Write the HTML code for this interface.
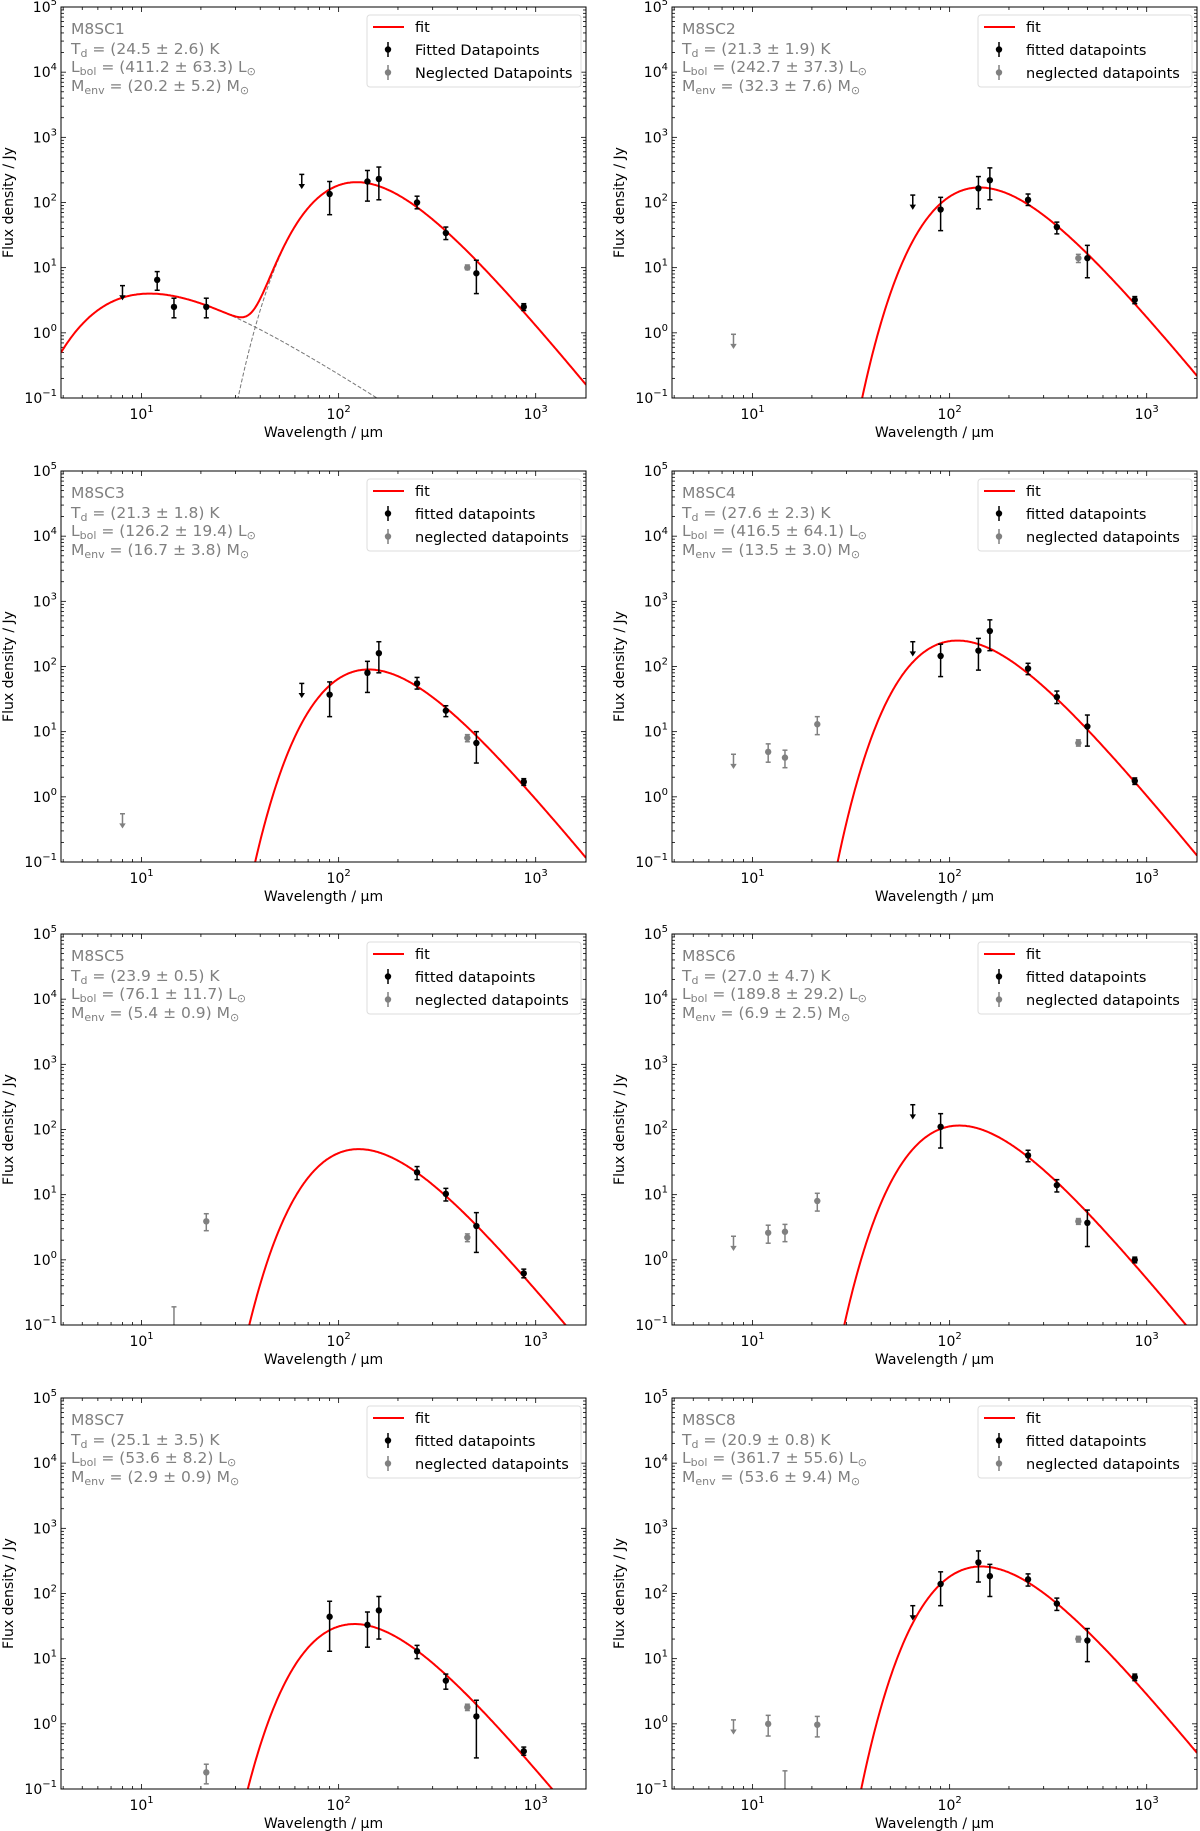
<!DOCTYPE html>
<html><head><meta charset="utf-8">
<style>
html,body{margin:0;padding:0;background:#fff;}
svg{display:block;font-family:"DejaVu Sans","Liberation Sans",sans-serif;}
</style></head>
<body>
<svg id="fig" width="1200" height="1831" viewBox="0 0 1200 1831" xmlns="http://www.w3.org/2000/svg"></svg>
<script>
// ---- data ----
const panelNames = ["M8SC1","M8SC2","M8SC3","M8SC4","M8SC5","M8SC6","M8SC7","M8SC8"];
const tdText = ["24.5 ± 2.6","21.3 ± 1.9","21.3 ± 1.8","27.6 ± 2.3","23.9 ± 0.5","27.0 ± 4.7","25.1 ± 3.5","20.9 ± 0.8"];
const lbolText = ["411.2 ± 63.3","242.7 ± 37.3","126.2 ± 19.4","416.5 ± 64.1","76.1 ± 11.7","189.8 ± 29.2","53.6 ± 8.2","361.7 ± 55.6"];
const menvText = ["20.2 ± 5.2","32.3 ± 7.6","16.7 ± 3.8","13.5 ± 3.0","5.4 ± 0.9","6.9 ± 2.5","2.9 ± 0.9","53.6 ± 9.4"];
const coldT = [24.5,21.3,21.3,27.6,23.9,27.0,25.1,20.9];
const coldPeak = [205,170,90,250,50,115,34,260];
const warmT = [464,0,0,0,0,0,0,0];
const warmPeak = [4,0,0,0,0,0,0,0];
// points: [wavelength, value, low, high, kind]  kind: f=fitted, n=neglected, fu=fitted upper limit, nu=neglected upper limit
const points1 = [[8,5.3,0,0,"fu"],[12,6.5,4.5,8.7,"f"],[14.6,2.5,1.7,3.4,"f"],[21.3,2.5,1.7,3.4,"f"],[65,270,0,0,"fu"],[90,135,65,210,"f"],[140,210,105,310,"f"],[160,230,110,350,"f"],[250,100,80,125,"f"],[350,34,27,42,"f"],[450,10,9.3,11,"n"],[500,8.2,4,13,"f"],[870,2.5,2.2,2.8,"f"]];
const points2 = [[8,0.95,0,0,"nu"],[65,130,0,0,"fu"],[90,78,37,120,"f"],[140,165,80,250,"f"],[160,220,110,340,"f"],[250,110,90,135,"f"],[350,42,33,50,"f"],[450,14,12,16,"n"],[500,14,7,22,"f"],[870,3.2,2.8,3.6,"f"]];
const points3 = [[8,0.55,0,0,"nu"],[65,55,0,0,"fu"],[90,37,17,58,"f"],[140,80,40,120,"f"],[160,160,80,240,"f"],[250,55,45,68,"f"],[350,21,17,25,"f"],[450,8,7,9,"n"],[500,6.7,3.3,10,"f"],[870,1.7,1.5,1.9,"f"]];
const points4 = [[8,4.5,0,0,"nu"],[12,4.9,3.4,6.5,"n"],[14.6,4,2.8,5.2,"n"],[21.3,13,9,17,"n"],[65,240,0,0,"fu"],[90,145,70,220,"f"],[140,175,88,270,"f"],[160,350,175,520,"f"],[250,93,75,112,"f"],[350,34,27,42,"f"],[450,6.7,6,7.5,"n"],[500,12,6,18,"f"],[870,1.75,1.55,1.95,"f"]];
const points5 = [[14.6,0.05,0.01,0.19,"n"],[21.3,3.9,2.8,5.1,"n"],[250,22,17,27,"f"],[350,10.3,8,12.5,"f"],[450,2.2,1.9,2.5,"n"],[500,3.3,1.3,5.3,"f"],[870,0.62,0.53,0.72,"f"]];
const points6 = [[8,2.3,0,0,"nu"],[12,2.6,1.8,3.4,"n"],[14.6,2.7,1.9,3.5,"n"],[21.3,8,5.6,10.5,"n"],[65,240,0,0,"fu"],[90,110,52,175,"f"],[250,40,32,48,"f"],[350,14,11,17,"f"],[450,3.9,3.5,4.3,"n"],[500,3.7,1.6,5.8,"f"],[870,1.0,0.9,1.1,"f"]];
const points7 = [[21.3,0.18,0.12,0.24,"n"],[90,44,13,76,"f"],[140,33,15,52,"f"],[160,55,20,90,"f"],[250,13,10,16,"f"],[350,4.6,3.4,5.8,"f"],[450,1.8,1.6,2.0,"n"],[500,1.3,0.3,2.3,"f"],[870,0.38,0.33,0.44,"f"]];
const points8 = [[8,1.15,0,0,"nu"],[12,1.0,0.65,1.35,"n"],[14.6,0.05,0.01,0.19,"n"],[21.3,0.97,0.63,1.3,"n"],[65,65,0,0,"fu"],[90,140,65,215,"f"],[140,300,150,450,"f"],[160,185,90,280,"f"],[250,165,130,200,"f"],[350,70,55,85,"f"],[450,20,18,22,"n"],[500,19,9,29,"f"],[870,5.2,4.6,5.8,"f"]];
const allPoints = [points1,points2,points3,points4,points5,points6,points7,points8];
const legendFitted = ["Fitted Datapoints","fitted datapoints","fitted datapoints","fitted datapoints","fitted datapoints","fitted datapoints","fitted datapoints","fitted datapoints"];
const legendNeglected = ["Neglected Datapoints","neglected datapoints","neglected datapoints","neglected datapoints","neglected datapoints","neglected datapoints","neglected datapoints","neglected datapoints"];
const xTickVals = [10,100,1000];
const xTickExp = ["1","2","3"];
const yTickVals = [0.1,1,10,100,1000,10000,100000];
const yTickExp = ["−1","0","1","2","3","4","5"];
const XMIN=3.9, XMAX=1800, YMIN=0.1, YMAX=1e5, BETA=1.8;

// ---- layout ----
const colLeft=[61,672], rowTop=[7,471,934,1398], W=525, H=391;
const NS="http://www.w3.org/2000/svg";
const svg=document.getElementById('fig');
function mk(tag,attrs,parent){const e=document.createElementNS(NS,tag);for(const k in attrs)e.setAttribute(k,attrs[k]);(parent||svg).appendChild(e);return e;}

function shape(lam,T,beta){const x=14388/(lam*T);return Math.pow(x,3+beta)/(Math.exp(x)-1);}
function shapeMax(T,beta){let m=0;for(let l=1;l<10000;l*=1.005){const v=shape(l,T,beta);if(v>m)m=v;}return m;}

for(let p=0;p<8;p++){
  const L=colLeft[p%2], T0=rowTop[Math.floor(p/2)];
  const xs=v=>L+(Math.log10(v)-Math.log10(XMIN))/(Math.log10(XMAX)-Math.log10(XMIN))*W;
  const ys=v=>T0+H-(Math.log10(v)-Math.log10(YMIN))/(Math.log10(YMAX)-Math.log10(YMIN))*H;
  const g=mk('g',{});
  
  
  const cp=mk('clipPath',{id:'clip'+p},g);
  mk('rect',{x:L,y:T0,width:W,height:H},cp);

  const tk=mk('g',{stroke:'#000','stroke-width':0.8},g);
  
  
  for(let e=0;e<=3;e++)for(let m=1;m<10;m++){const v=m*Math.pow(10,e);if(v<XMIN||v>XMAX)continue;const x=xs(v),len=m==1?5:3;
    mk('line',{x1:x,y1:T0+H,x2:x,y2:T0+H-len},tk);mk('line',{x1:x,y1:T0,x2:x,y2:T0+len},tk);}
  for(let e=-1;e<=5;e++)for(let m=1;m<10;m++){const v=m*Math.pow(10,e);if(v<YMIN||v>YMAX*1.0001)continue;const y=ys(v),len=m==1?5:3;
    mk('line',{x1:L,y1:y,x2:L+len,y2:y},tk);mk('line',{x1:L+W,y1:y,x2:L+W-len,y2:y},tk);}

  xTickVals.forEach((v,i)=>{const t=mk('text',{x:xs(v),y:T0+H+21,'text-anchor':'middle','font-size':14,fill:'#000'},g);
    
    t.innerHTML='10<tspan dy="-7" font-size="10">'+xTickExp[i]+'</tspan>';});
  yTickVals.forEach((v,i)=>{const t=mk('text',{x:L-4,y:ys(v)+5,'text-anchor':'end','font-size':14,fill:'#000'},g);
    
    t.innerHTML='10<tspan dy="-7" font-size="10">'+yTickExp[i]+'</tspan>';});

  const xt=mk('text',{x:L+W/2,y:T0+H+39,'text-anchor':'middle','font-size':14,fill:'#000'},g);
  
  xt.textContent='Wavelength / μm';
  const cy=T0+H/2;
  const yt=mk('text',{x:L-48,y:cy,'text-anchor':'middle','font-size':14,fill:'#000',transform:'rotate(-90 '+(L-48)+' '+cy+')'},g);
  
  yt.textContent='Flux density / Jy';

  const cg=mk('g',{'clip-path':'url(#clip'+p+')',fill:'none'},g);
  const cm=shapeMax(coldT[p],BETA), wm=warmPeak[p]>0?shapeMax(warmT[p],0):1;
  let dFit='',dCold='',dWarm='';
  for(let px=0;px<=W;px+=1){
    const lam=Math.pow(10,Math.log10(XMIN)+px/W*(Math.log10(XMAX)-Math.log10(XMIN)));
    const c=Math.max(coldPeak[p]*shape(lam,coldT[p],BETA)/cm,1e-6);
    const w=warmPeak[p]>0?Math.max(warmPeak[p]*shape(lam,warmT[p],0)/wm,1e-6):0;
    const yF=Math.max(Math.min(ys(c+w),T0+H+50),T0-50);
    dFit+=(px?'L':'M')+(L+px).toFixed(1)+' '+yF.toFixed(1);
    if(warmPeak[p]>0){
      dCold+=(px?'L':'M')+(L+px).toFixed(1)+' '+Math.min(ys(c),T0+H+50).toFixed(1);
      dWarm+=(px?'L':'M')+(L+px).toFixed(1)+' '+Math.min(ys(w),T0+H+50).toFixed(1);
    }
  }
  if(warmPeak[p]>0){
    const c1=mk('path',{d:dCold,stroke:'#777','stroke-width':1,'stroke-dasharray':'4 2'},cg);
    
    const c2=mk('path',{d:dWarm,stroke:'#777','stroke-width':1,'stroke-dasharray':'4 2'},cg);
    
  }
  const fl=mk('path',{d:dFit,stroke:'#ff0000','stroke-width':2},cg);
  

  const pg=mk('g',{'clip-path':'url(#clip'+p+')'},g);
  allPoints[p].forEach(pt=>{
    const [lam,val,lo,hi,kind]=pt;
    const col=kind[0]=='f'?'#000':'#808080';
    const x=xs(lam);
    const e=mk('g',{stroke:col,fill:col,'stroke-width':1.5},pg);
    
    
    if(kind.length==2){
      const yt=ys(val), yb=yt+13;
      mk('line',{x1:x,y1:yt,x2:x,y2:yb},e);
      mk('line',{x1:x-2.5,y1:yt,x2:x+2.5,y2:yt},e);
      mk('path',{d:'M'+(x-2.5)+' '+(yb-3)+'L'+x+' '+(yb+1)+'L'+(x+2.5)+' '+(yb-3)+'Z','stroke-width':0.8},e);
    } else {
      mk('line',{x1:x,y1:ys(hi),x2:x,y2:ys(lo)},e);
      mk('line',{x1:x-2.5,y1:ys(hi),x2:x+2.5,y2:ys(hi)},e);
      mk('line',{x1:x-2.5,y1:ys(lo),x2:x+2.5,y2:ys(lo)},e);
      mk('circle',{cx:x,cy:ys(val),r:3.2,stroke:'none'},e);
    }
  });

  const fr=mk('rect',{x:L,y:T0,width:W,height:H,fill:'none',stroke:'#000','stroke-width':1},g);
  

  const info=mk('g',{fill:'#808080','font-size':15.5},g);
  
  const t1=mk('text',{x:L+10,y:T0+27},info);t1.textContent=panelNames[p];
  const t2=mk('text',{x:L+10,y:T0+47},info);t2.innerHTML='T<tspan dy="3" font-size="11">d</tspan><tspan dy="-3"> = ('+tdText[p]+') K</tspan>';
  const t3=mk('text',{x:L+10,y:T0+65},info);t3.innerHTML='L<tspan dy="3" font-size="11">bol</tspan><tspan dy="-3"> = ('+lbolText[p]+') L</tspan><tspan dy="3" font-size="11">⊙</tspan>';
  const t4=mk('text',{x:L+10,y:T0+84},info);t4.innerHTML='M<tspan dy="3" font-size="11">env</tspan><tspan dy="-3"> = ('+menvText[p]+') M</tspan><tspan dy="3" font-size="11">⊙</tspan>';

  const lg=mk('g',{},g);
  
  const lx=L+W-219, ly=T0+8;
  mk('rect',{x:lx,y:ly,width:214,height:72,rx:3,fill:'#fff',stroke:'#ddd','stroke-width':1},lg);
  const e1=mk('g',{},lg);
  mk('line',{x1:lx+6,y1:ly+12,x2:lx+37,y2:ly+12,stroke:'#ff0000','stroke-width':2},e1);
  const lt1=mk('text',{x:lx+48,y:ly+17,'font-size':14.5,fill:'#000'},e1);lt1.textContent='fit';
  const e2=mk('g',{},lg);
  mk('line',{x1:lx+21,y1:ly+27,x2:lx+21,y2:ly+42,stroke:'#000','stroke-width':1.5},e2);
  mk('circle',{cx:lx+21,cy:ly+34.5,r:3.2,fill:'#000'},e2);
  const lt2=mk('text',{x:lx+48,y:ly+40,'font-size':14.5,fill:'#000'},e2);lt2.textContent=legendFitted[p];
  const e3=mk('g',{},lg);
  mk('line',{x1:lx+21,y1:ly+50,x2:lx+21,y2:ly+65,stroke:'#808080','stroke-width':1.5},e3);
  mk('circle',{cx:lx+21,cy:ly+57.5,r:3.2,fill:'#808080'},e3);
  const lt3=mk('text',{x:lx+48,y:ly+63,'font-size':14.5,fill:'#000'},e3);lt3.textContent=legendNeglected[p];
}
</script>
</body></html>
